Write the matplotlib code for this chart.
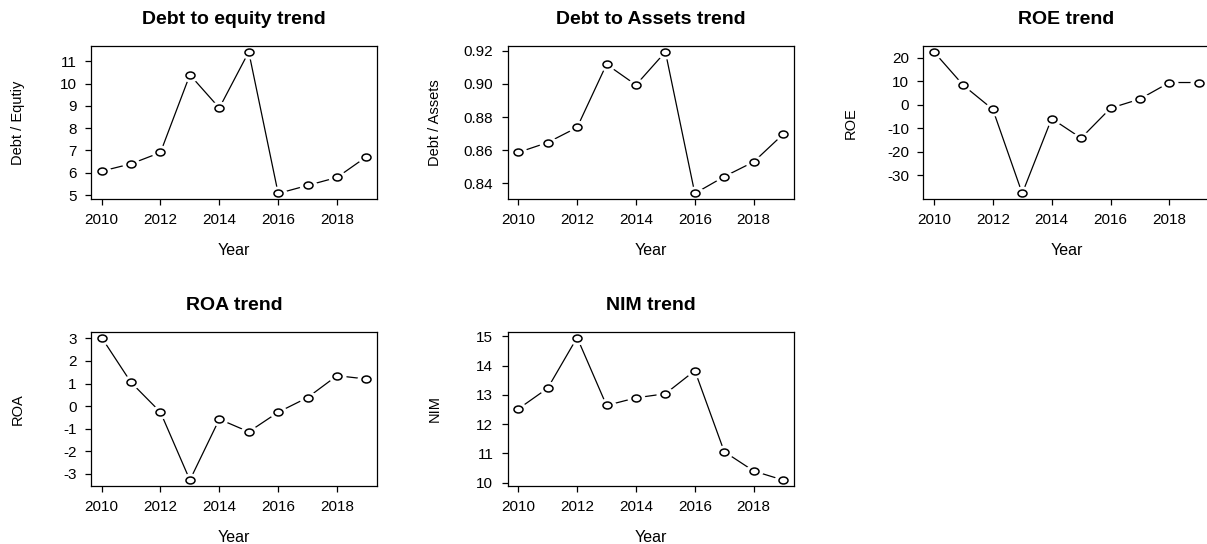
import matplotlib
matplotlib.use("Agg")
import matplotlib.pyplot as plt
from matplotlib.path import Path
from matplotlib.transforms import Affine2D
import numpy as np

plt.rc('font', family=['Liberation Sans', 'DejaVu Sans'], size=10)

# ------------------------------------------------------------------ #
#   data
# ------------------------------------------------------------------ #
years = [2010, 2011, 2012, 2013, 2014, 2015, 2016, 2017, 2018, 2019]

debt_equity = [6.07, 6.40, 6.91, 10.40, 8.91, 11.43, 5.07, 5.43, 5.79, 6.72]
debt_assets = [0.8586, 0.8646, 0.8737, 0.9119, 0.8994, 0.9194, 0.8338, 0.8440, 0.8529, 0.8696]
roe = [22.4, 8.2, -2.0, -37.7, -5.9, -14.2, -1.5, 2.4, 9.4, 9.4]
roa = [3.04, 1.05, -0.27, -3.28, -0.58, -1.14, -0.27, 0.38, 1.35, 1.20]
nim = [12.52, 13.23, 14.96, 12.64, 12.90, 13.04, 13.83, 11.06, 10.40, 10.09]

xticks = [2010, 2012, 2014, 2016, 2018]

panels = [
    # title, ylabel, values, yticks, fmt
    ("Debt to equity trend", "Debt / Equtiy", debt_equity, [5, 6, 7, 8, 9, 10, 11], "%d"),
    ("Debt to Assets trend", "Debt / Assets", debt_assets, [0.84, 0.86, 0.88, 0.90, 0.92], "%.2f"),
    ("ROE trend", "ROE", roe, [-30, -20, -10, 0, 10, 20], "%d"),
    ("ROA trend", "ROA", roa, [-3, -2, -1, 0, 1, 2, 3], "%d"),
    ("NIM trend", "NIM", nim, [10, 11, 12, 13, 14, 15], "%d"),
]

# axes boxes in figure fractions (left, bottom, width, height)
W = 0.237
boxes = [
    (0.0754, 0.634, W, 0.281),
    (0.4206, 0.634, W, 0.281),
    (0.7650, 0.634, W, 0.281),
    (0.0754, 0.107, W, 0.283),
    (0.4206, 0.107, W, 0.283),
]

# the reference is a bit stretched sideways -> slightly flat circles
ellipse = Path.unit_circle().transformed(Affine2D().scale(1.3, 1.0))

fig = plt.figure(figsize=(12.07, 5.44), dpi=100)

for (title, ylab, vals, yt, fmt), box in zip(panels, boxes):
    ax = fig.add_axes(box)
    # R type="b": line with gaps round the points
    ax.plot(years, vals, color='black', lw=0.9, zorder=1)
    ax.plot(years, vals, ls='none', marker=ellipse, ms=13, mfc='white', mec='none', zorder=2)
    ax.plot(years, vals, ls='none', marker=ellipse, ms=6.5, mfc='white', mec='black',
            mew=1.1, zorder=3)
    ax.margins(x=0.04, y=0.04)

    ax.set_xticks(xticks)
    ax.set_yticks(yt)
    ax.set_yticklabels([fmt % v for v in yt])
    ax.tick_params(direction='out', length=4.3, width=0.9, pad=6, labelsize=11,
                   top=False, right=False)

    for sp in ax.spines.values():
        sp.set_linewidth(0.9)

    ax.set_title(title, fontsize=14, fontweight='bold', pad=16)
    ax.set_xlabel("Year", fontsize=11.5)
    ax.set_ylabel(ylab, fontsize=10.5)
    ax.xaxis.set_label_coords(0.5, -0.333)
    ax.xaxis.label.set_verticalalignment('center')
    ax.yaxis.set_label_coords(-0.255, 0.5)
    ax.yaxis.label.set_verticalalignment('center')

fig.savefig('out.png', dpi=100)
